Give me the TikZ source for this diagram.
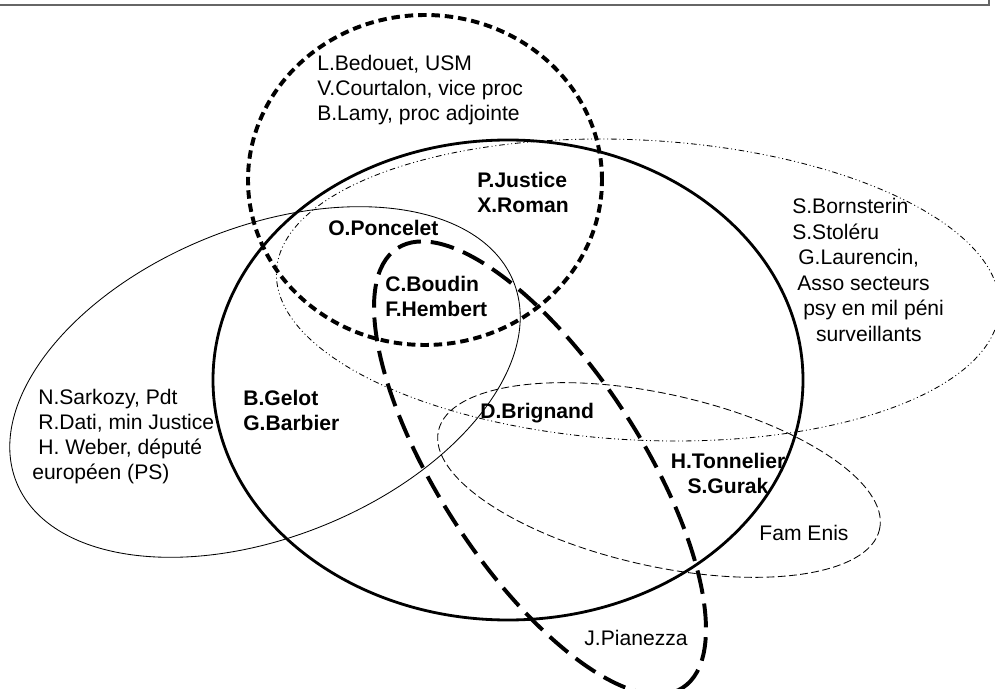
\documentclass[tikz,border=0pt]{standalone}
\usepackage{fontspec}
\setmainfont{Liberation Sans}
\usetikzlibrary{positioning}

\begin{document}
\begin{tikzpicture}[
  x=0.025cm, y=0.025cm,
  lbl/.style={inner sep=0pt, font=\fontsize{15}{17.8}\selectfont, align=left},
  lblb/.style={lbl, font=\fontsize{15}{17.8}\selectfont\bfseries},
  shortdashset/.style={draw, line width=2.8pt, dash pattern=on 6pt off 3.5pt},
  longdashset/.style={draw, line width=2.8pt, dash pattern=on 17pt off 7pt},
  bigset/.style={draw, line width=2pt},
  thinset/.style={draw, line width=0.6pt},
  dotset/.style={draw, line width=0.6pt, dash pattern=on 4pt off 2pt on 0.7pt off 2pt on 0.7pt off 2pt},
  famset/.style={draw, line width=0.6pt, dash pattern=on 5.5pt off 2.5pt}
]
\useasboundingbox (0,-689) rectangle (995,0);
\clip (0,-689) rectangle (995,0);

% frame cut by the top edge
\draw[gray!80!black, line width=1.4pt] (-5,-5) -- (989,-5) -- (989,5);

% the sets
\draw[thinset, rotate around={22:(265,-382)}] (265,-382) ellipse [x radius=268, y radius=155];
\draw[dotset, rotate around={-3:(638,-290)}] (638,-290) ellipse [x radius=362, y radius=150];
\draw[famset, rotate around={-12.6:(659,-480)}] (659,-480) ellipse [x radius=226, y radius=86];
\draw[bigset] (508,-380) ellipse [x radius=295, y radius=240];
\draw[shortdashset] (425,-180) ellipse [x radius=177, y radius=165];
\draw[longdashset, rotate around={-57:(540,-468)}] (540,-468) ellipse [x radius=262, y radius=101];

% names
\node[lbl, anchor=west] (magistrats) at (317,-90.5) {L.Bedouet, USM\\V.Courtalon, vice proc\\B.Lamy, proc adjointe};
\node[lblb, anchor=west] (justice) at (477,-192) {P.Justice\\X.Roman};
\node[lblb, anchor=west] (poncelet) at (328,-228) {O.Poncelet};
\node[lblb, anchor=west] (boudin) at (385,-296) {C.Boudin\\F.Hembert};
\node[lbl, anchor=west, font=\fontsize{15}{18.2}\selectfont] (assos) at (792,-270) {S.Bornsterin\\S.Stoléru\\\hspace*{4.3pt}G.Laurencin,\\\hspace*{3.6pt}Asso secteurs\\\hspace*{7.8pt}psy en mil péni\\\hspace*{17pt}surveillants};
\node[lbl, anchor=west] (politiques) at (32,-436.5) {\hspace*{4.3pt}N.Sarkozy, Pdt\\\hspace*{4.3pt}R.Dati, min Justice\\\hspace*{4.3pt}H. Weber, député\\européen (PS)};
\node[lblb, anchor=west] (gelot) at (243,-410) {B.Gelot\\G.Barbier};
\node[lblb, anchor=west] (brignand) at (480,-413) {D.Brignand};
\node[lblb, align=center] (tonnelier) at (728,-473) {H.Tonnelier\\S.Gurak};
\node[lbl] (enis) at (804,-533) {Fam Enis};
\node[lbl] (pianezza) at (636,-638) {J.Pianezza};
\end{tikzpicture}
\end{document}
